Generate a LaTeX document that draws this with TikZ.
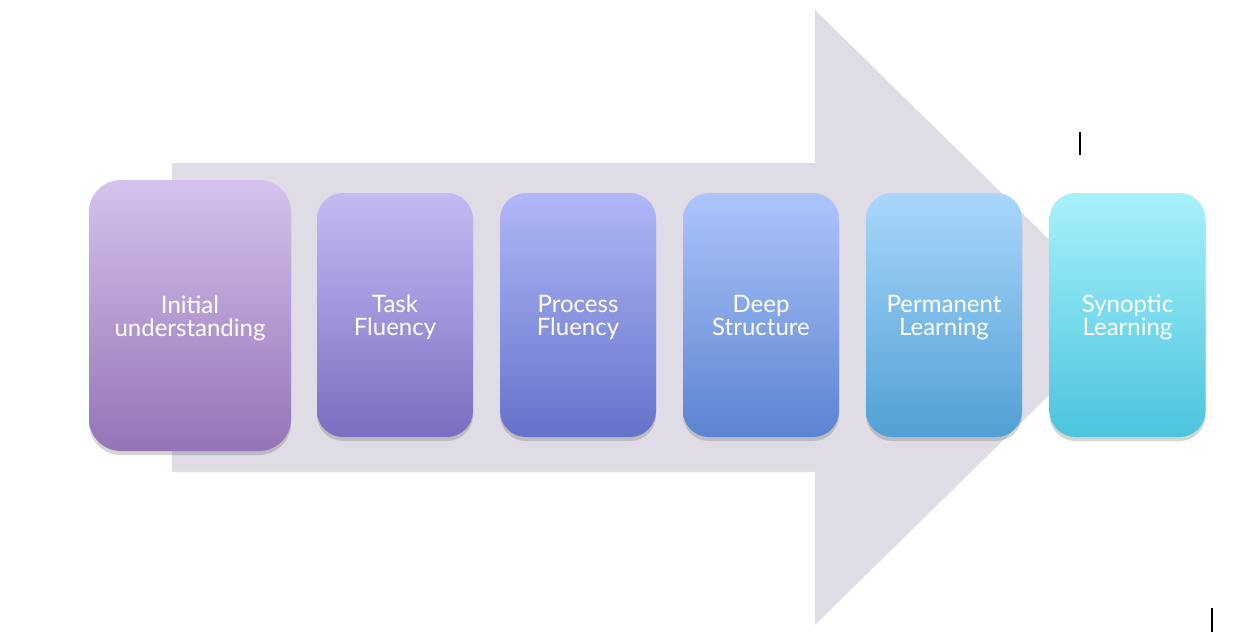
\documentclass[tikz,border=0pt]{standalone}
\usepackage{fontspec}
\setmainfont{Lato}
\usepackage{xcolor}
\usepackage{tikz}
\usetikzlibrary{shadows}

% colours of the stages, top and bottom of each gradient
\definecolor{arrowgray}{HTML}{DFDCE6}
\definecolor{initialtop}{HTML}{D6C2EE}
\definecolor{initialbot}{HTML}{9474B6}
\definecolor{tasktop}{HTML}{C3BBF3}
\definecolor{taskbot}{HTML}{7C6DC1}
\definecolor{processtop}{HTML}{B1B8F8}
\definecolor{processbot}{HTML}{6472CA}
\definecolor{deeptop}{HTML}{ADC5FC}
\definecolor{deepbot}{HTML}{5B84D0}
\definecolor{permtop}{HTML}{AAD7FB}
\definecolor{permbot}{HTML}{50A0D6}
\definecolor{synoptictop}{HTML}{A8F1FB}
\definecolor{synopticbot}{HTML}{4BC4DE}

\begin{document}
\begin{tikzpicture}[x=0.5pt, y=-0.5pt,
    stage/.style={rectangle, rounded corners=13pt, minimum width=78pt, minimum height=122pt,
        inner sep=0pt, align=center, text=white, font=\fontsize{12}{11.5}\selectfont,
        text height=23pt, text depth=2.4pt,
        drop shadow={shadow xshift=0pt, shadow yshift=-2pt, opacity=0.28, fill=black!60}},
    bigstage/.style={stage, rounded corners=16pt, minimum width=101pt, minimum height=135.5pt}
    ]
    \useasboundingbox (0,0) rectangle (1246,637);

    % Background arrow
    \fill[arrowgray, drop shadow={shadow xshift=0pt, shadow yshift=-1.5pt, opacity=0.2, fill=black!60}]
        (172,163) -- (815,163) -- (815,10) -- (1127,316) -- (815,622) -- (815,469) -- (172,469) -- cycle;

    % Stages
    \node[bigstage, top color=initialtop, bottom color=initialbot] (initial) at (190,315.5) {Initial\\understanding};
    \node[stage, top color=tasktop, bottom color=taskbot] (task) at (395,315) {Task\\Fluency};
    \node[stage, top color=processtop, bottom color=processbot] (process) at (578,315) {Process\\Fluency};
    \node[stage, top color=deeptop, bottom color=deepbot] (deep) at (761,315) {Deep\\Structure};
    \node[stage, top color=permtop, bottom color=permbot] (permanent) at (944,315) {Permanent\\Learning};
    \node[stage, top color=synoptictop, bottom color=synopticbot] (synoptic) at (1127.5,315) {Synoptic\\Learning};

    % Stray marks
    \draw[line width=0.6pt] (1080,132) -- (1080,155);
    \draw[line width=0.6pt] (1212,608) -- (1212,632);
\end{tikzpicture}
\end{document}
